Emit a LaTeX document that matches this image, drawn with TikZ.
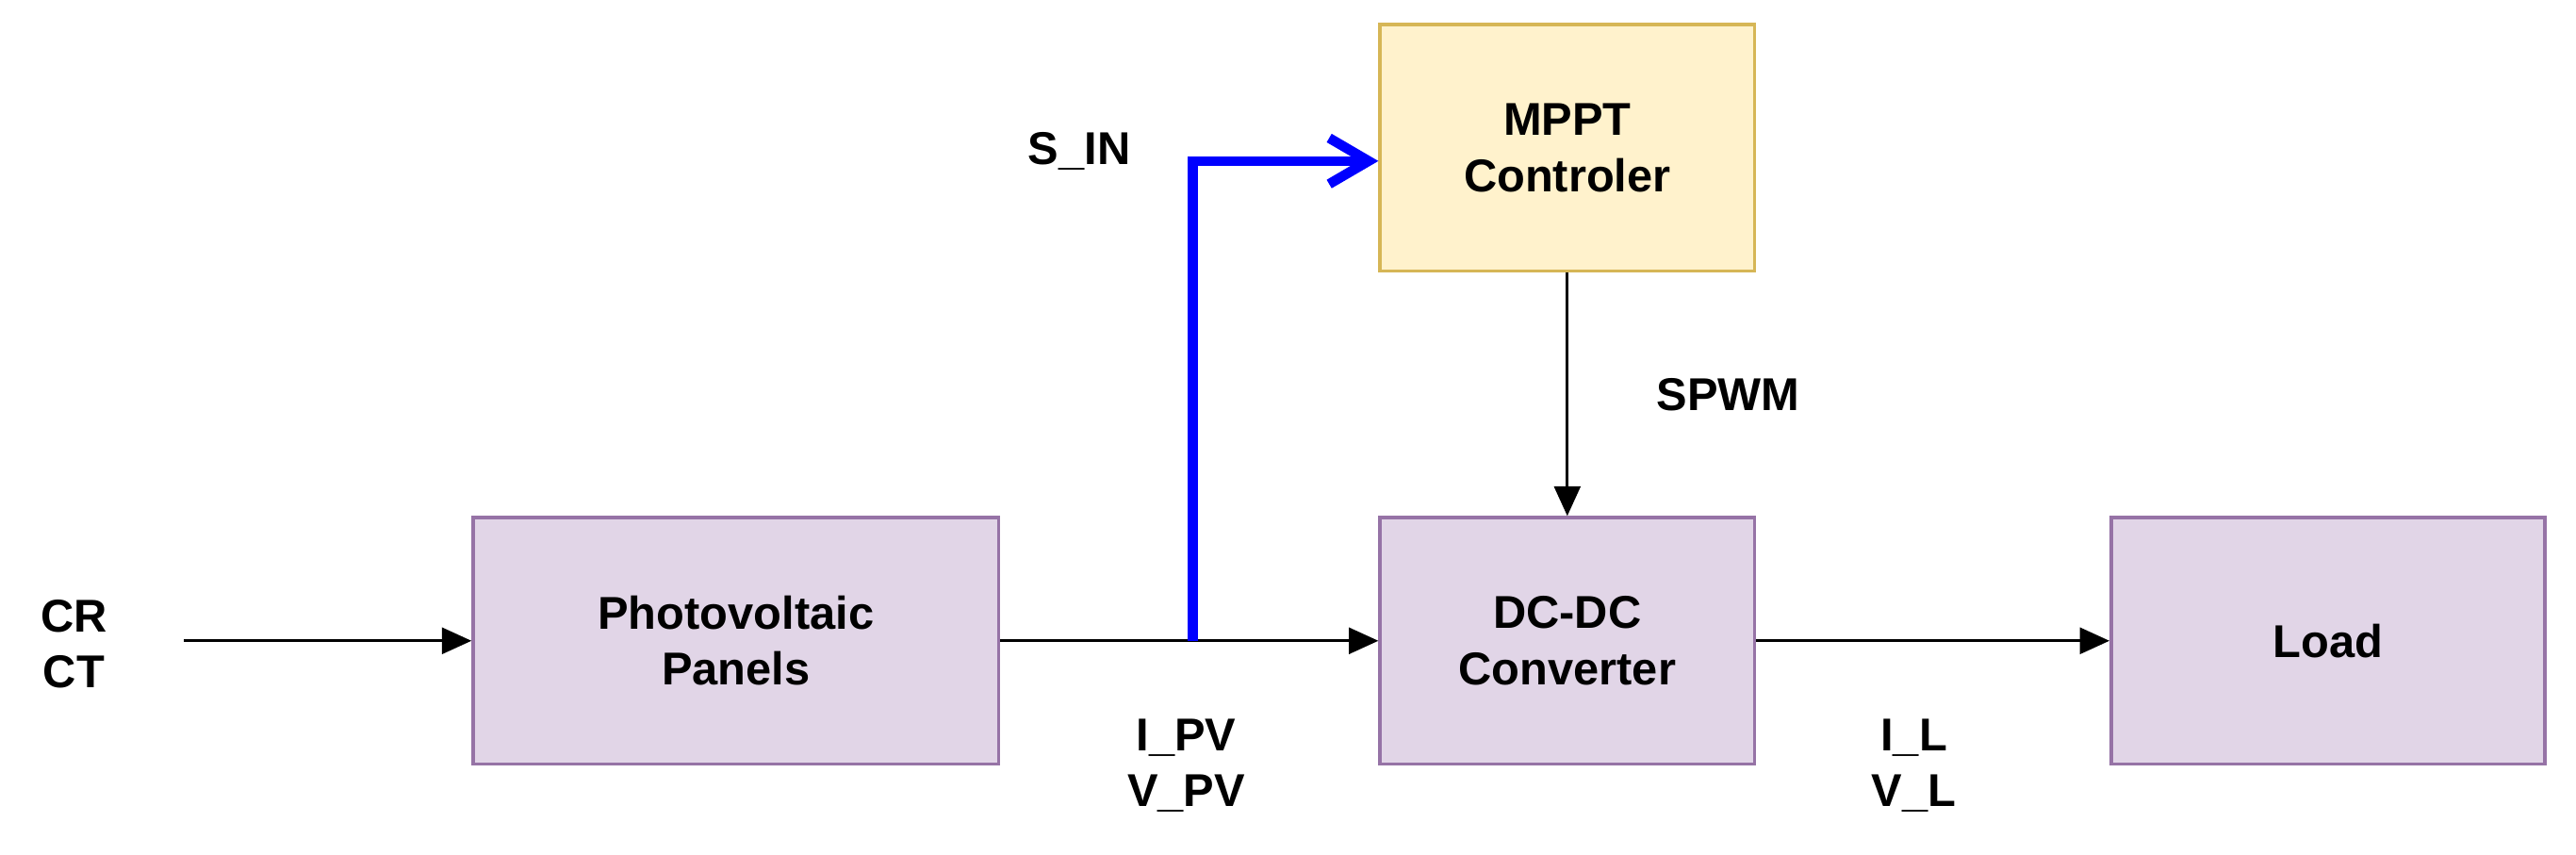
\documentclass[tikz,border=0pt]{standalone}
\usepackage{fontspec}
\setmainfont{Liberation Sans}
\usetikzlibrary{arrows.meta}
\definecolor{pvfill}{HTML}{E1D5E7}
\definecolor{pvline}{HTML}{9673A6}
\definecolor{ctfill}{HTML}{FFF2CC}
\definecolor{ctline}{HTML}{D6B656}
\begin{document}
\begin{tikzpicture}[x=0.5pt,y=-0.5pt,
		every node/.style={font=\fontsize{14}{17}\selectfont\bfseries,align=center}]
		\tikzstyle{blok}=[draw=pvline,fill=pvfill,line width=1pt,minimum width=160pt,minimum height=75pt];
		\tikzstyle{flow}=[line width=0.8pt,-{Triangle[length=9pt,width=8pt]}];
		\useasboundingbox (0,0) rectangle (1568,520);
		\node[blok](pv) at (448,390) {Photovoltaic\\Panels};
		\node[blok,minimum width=114pt](dc) at (954,390) {DC-DC\\Converter};
		\node[blok,minimum width=132pt](load) at (1417,390) {Load};
		\node[blok,minimum width=114pt,draw=ctline,fill=ctfill](mppt) at (954,90) {MPPT\\Controler};
		\node(crct) at (45,392) {CR\\CT};
		\node(sin) at (657,92) {S\_IN};
		\node(spwm) at (1052,240) {SPWM};
		\node(ipv) at (722,466) {I\_PV\\V\_PV};
		\node(il) at (1165,466) {I\_L\\V\_L};
		\coordinate(in) at (112,390);
		\coordinate(tap) at (726,390);
		\draw[flow] (in) -- (pv);
		\draw[flow] (pv) -- (dc);
		\draw[flow] (dc) -- (load);
		\draw[flow] (mppt) -- (dc);
		\draw[line width=3pt,blue,-{Straight Barb[length=12pt,width=14pt]}] (tap) |- (mppt.west |- 0,98);
	\end{tikzpicture}
\end{document}
